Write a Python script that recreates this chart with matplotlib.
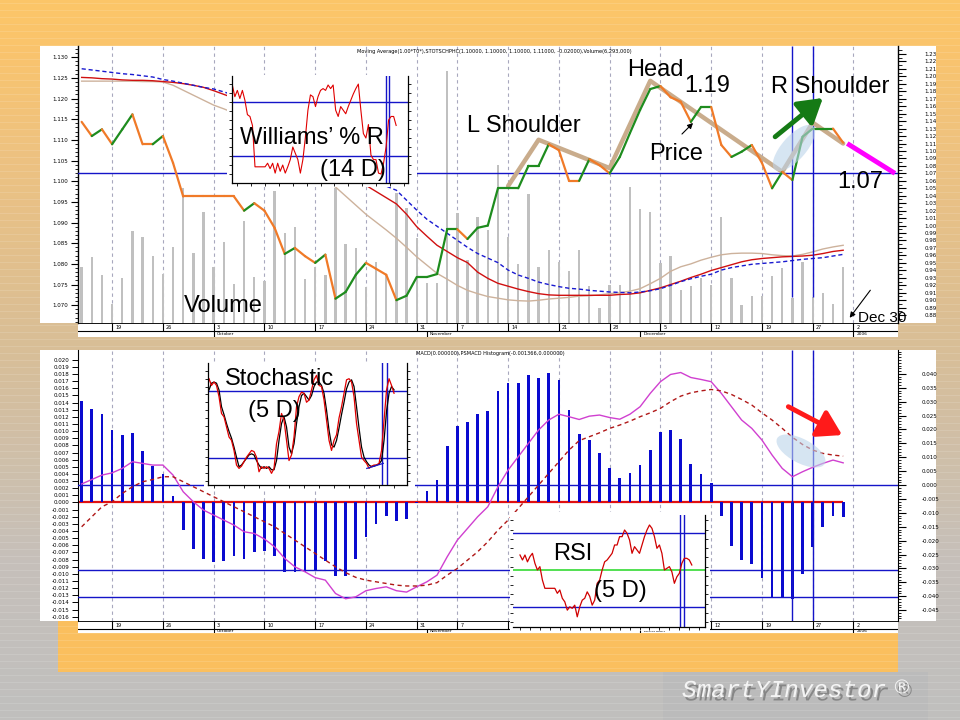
import matplotlib
matplotlib.use("Agg")
import matplotlib.pyplot as plt
import matplotlib.patches as patches
import matplotlib.patheffects as pe
import matplotlib.transforms as mtransforms
import numpy as np

# ---------------------------------------------------------------
# Daily series, trading-day index 0 = Sep 14 2005 ... 75 = Dec 30 2005
# ---------------------------------------------------------------
price = [1.139, 1.120, 1.129, 1.109, 1.129, 1.149, 1.109, 1.109, 1.120, 1.084,
         1.039, 1.039, 1.039, 1.039, 1.039, 1.039, 1.020, 1.030, 1.020, 0.997,
         0.962, 0.970, 0.959, 0.950, 0.961, 0.902, 0.911, 0.934, 0.950, 0.942,
         0.934, 0.900, 0.906, 0.931, 0.931, 0.935, 0.995, 0.995, 0.982, 0.997,
         1.000, 1.050, 1.050, 1.050, 1.080, 1.080, 1.109, 1.101, 1.060, 1.060,
         1.089, 1.081, 1.070, 1.092, 1.124, 1.155, 1.183, 1.187, 1.172, 1.166,
         1.139, 1.159, 1.159, 1.108, 1.092, 1.099, 1.108, 1.084, 1.050, 1.072,
         1.061, 1.119, 1.130, 1.130, 1.130, 1.111]

volume = [2.04, 2.40, 1.74, 0.69, 1.64, 3.34, 3.13, 2.43, 1.78, 2.74,
          4.88, 2.53, 4.03, 2.04, 2.95, 1.41, 3.71, 1.68, 1.52, 4.79,
          3.25, 3.49, 1.61, 2.04, 1.75, 4.88, 2.86, 2.71, 1.32, 2.22,
          1.74, 4.72, 4.16, 3.09, 1.45, 1.44, 9.14, 3.97, 2.28, 3.85,
          3.37, 5.72, 3.11, 2.14, 4.67, 2.04, 2.64, 2.22, 1.89, 2.64,
          1.34, 0.53, 1.38, 1.38, 4.92, 4.12, 4.02, 2.18, 2.43, 1.20,
          1.34, 1.64, 1.38, 3.83, 1.64, 0.64, 0.98, 0.98, 1.70, 1.98,
          0.92, 2.22, 0.95, 1.10, 0.69, 2.04]

ma_red = [1.1251, 1.1250, 1.1248, 1.1247, 1.1245, 1.1244, 1.1244, 1.1243, 1.1241, 1.1239,
          1.1236, 1.1232, 1.1227, 1.1219, 1.1210, 1.1201, 1.1189, 1.1174, 1.1160, 1.1145,
          1.1128, 1.1111, 1.1094, 1.1077, 1.1061, 1.1044, 1.1027, 1.1010, 1.0990, 1.0975,
          1.0960, 1.0945, 1.0920, 1.0890, 1.0867, 1.0845, 1.0830, 1.0815, 1.0803, 1.0780,
          1.0765, 1.0753, 1.0746, 1.0739, 1.0733, 1.0728, 1.0725, 1.0724, 1.0724, 1.0724,
          1.0724, 1.0724, 1.0724, 1.0726, 1.0727, 1.0730, 1.0736, 1.0742, 1.0750, 1.0758,
          1.0767, 1.0775, 1.0784, 1.0791, 1.0798, 1.0805, 1.0810, 1.0813, 1.0815, 1.0817,
          1.0818, 1.0819, 1.0821, 1.0825, 1.0830, 1.0833]

ma_blue = [1.1272, 1.1269, 1.1266, 1.1263, 1.1260, 1.1258, 1.1255, 1.1252, 1.1246, 1.1242,
           1.1237, 1.1232, 1.1227, 1.1223, 1.1216, 1.1208, 1.1196, 1.1181, 1.1167, 1.1152,
           1.1136, 1.1121, 1.1104, 1.1087, 1.1070, 1.1056, 1.1039, 1.1024, 1.1010, 1.0998,
           1.0988, 1.0978, 1.0954, 1.0930, 1.0908, 1.0891, 1.0874, 1.0857, 1.0840, 1.0825,
           1.0814, 1.0803, 1.0785, 1.0773, 1.0765, 1.0756, 1.0750, 1.0745, 1.0741, 1.0739,
           1.0736, 1.0734, 1.0732, 1.0731, 1.0730, 1.0732, 1.0735, 1.0740, 1.0748, 1.0757,
           1.0764, 1.0770, 1.0775, 1.0785, 1.0791, 1.0795, 1.0799, 1.0801, 1.0803, 1.0805,
           1.0808, 1.0811, 1.0813, 1.0815, 1.0819, 1.0823]

ma_tan = [1.1242, 1.1242, 1.1242, 1.1242, 1.1242, 1.1242, 1.1241, 1.1241, 1.1240, 1.1232,
          1.1220, 1.1208, 1.1196, 1.1184, 1.1175, 1.1165, 1.1150, 1.1133, 1.1116, 1.1097,
          1.1077, 1.1058, 1.1039, 1.1019, 1.1000, 1.0986, 1.0964, 1.0942, 1.0920, 1.0901,
          1.0882, 1.0862, 1.0840, 1.0817, 1.0797, 1.0777, 1.0763, 1.0748, 1.0736, 1.0728,
          1.0721, 1.0717, 1.0713, 1.0711, 1.0710, 1.0712, 1.0715, 1.0717, 1.0719, 1.0722,
          1.0723, 1.0725, 1.0728, 1.0730, 1.0734, 1.0740, 1.0752, 1.0765, 1.0782, 1.0793,
          1.0800, 1.0809, 1.0816, 1.0822, 1.0825, 1.0826, 1.0826, 1.0825, 1.0822, 1.0820,
          1.0819, 1.0823, 1.0829, 1.0836, 1.0841, 1.0845]

macd_hist = [0.0142, 0.0131, 0.0124, 0.0102, 0.0095, 0.0098, 0.0072, 0.0051, 0.0040, 0.0009,
             -0.0039, -0.0065, -0.0079, -0.0083, -0.0082, -0.0075, -0.0079, -0.0070, -0.0068, -0.0075,
             -0.0097, -0.0097, -0.0097, -0.0095, -0.0082, -0.0103, -0.0103, -0.0079, -0.0048, -0.0030,
             -0.0019, -0.0026, -0.0023, -0.0001, 0.0016, 0.0031, 0.0079, 0.0107, 0.0113, 0.0124,
             0.0128, 0.0156, 0.0168, 0.0168, 0.0178, 0.0174, 0.0181, 0.0171, 0.0130, 0.0096,
             0.0088, 0.0070, 0.0048, 0.0035, 0.0042, 0.0053, 0.0074, 0.0099, 0.0101, 0.0089,
             0.0054, 0.0040, 0.0027, -0.0019, -0.0061, -0.0081, -0.0086, -0.0106, -0.0133, -0.0133,
             -0.0135, -0.0100, -0.0062, -0.0035, -0.0019, -0.0021]

macd_line = [0.0004, 0.0020, 0.0036, 0.0044, 0.0060, 0.0084, 0.0078, 0.0072, 0.0072, 0.0036,
             -0.0024, -0.0060, -0.0090, -0.0108, -0.0126, -0.0144, -0.0168, -0.0174, -0.0194, -0.0222,
             -0.0264, -0.0294, -0.0312, -0.0333, -0.0342, -0.0390, -0.0409, -0.0402, -0.0380, -0.0372,
             -0.0366, -0.0380, -0.0385, -0.0366, -0.0348, -0.0324, -0.0258, -0.0198, -0.0156, -0.0114,
             -0.0078, -0.0006, 0.0054, 0.0102, 0.0150, 0.0198, 0.0234, 0.0255, 0.0246, 0.0236,
             0.0248, 0.0252, 0.0243, 0.0237, 0.0255, 0.0282, 0.0330, 0.0372, 0.0398, 0.0405,
             0.0387, 0.0380, 0.0372, 0.0330, 0.0282, 0.0234, 0.0204, 0.0162, 0.0108, 0.0060,
             0.0030, 0.0048, 0.0064, 0.0078, 0.0090, 0.0080]

macd_signal = [-0.0150, -0.0114, -0.0078, -0.0060, -0.0030, -0.0006, 0.0012, 0.0020, 0.0030, 0.0030,
               0.0012, -0.0006, -0.0024, -0.0042, -0.0060, -0.0078, -0.0096, -0.0114, -0.0132, -0.0150,
               -0.0174, -0.0198, -0.0222, -0.0246, -0.0270, -0.0294, -0.0315, -0.0332, -0.0342, -0.0348,
               -0.0354, -0.0360, -0.0363, -0.0363, -0.0360, -0.0351, -0.0324, -0.0300, -0.0270, -0.0240,
               -0.0204, -0.0162, -0.0126, -0.0084, -0.0042, 0.0000, 0.0042, 0.0084, 0.0126, 0.0160,
               0.0174, 0.0188, 0.0204, 0.0216, 0.0230, 0.0246, 0.0260, 0.0276, 0.0300, 0.0320,
               0.0332, 0.0339, 0.0344, 0.0339, 0.0326, 0.0308, 0.0288, 0.0260, 0.0234, 0.0204,
               0.0172, 0.0146, 0.0126, 0.0114, 0.0108, 0.0104]

# small indicator windows (own sampling)
williams_r = [-1, -14, -7, -16, -7, -18, -34, -36, -46, -92,
              -92, -92, -92, -92, -88, -94, -88, -99, -88, -97,
              -90, -99, -92, -84, -70, -77, -84, -99, -84, -59,
              -29, -12, -14, -25, -14, -7, -5, -7, -1, -5,
              -1, -29, -36, -25, -29, -33, -25, -18, -11, -5,
              0, -29, -55, -60, -45, -79, -84, -84, -99, -100,
              -88, -70, -40, -36, -36, -46]

stoch_k = [91, 85, 88, 85, 75, 60, 57, 48, 39, 36,
           27, 14, 11, 13, 17, 21, 24, 27, 26, 21,
           8, 12.5, 11, 12.5, 11, 6.6, 11, 33, 44, 60,
           54, 36, 18, 23, 39, 66, 75, 79, 78, 70,
           72, 81, 90, 94, 85, 84, 72, 54, 36, 27,
           36, 41, 56, 66, 78, 90, 91, 88, 75, 51,
           36, 21, 18, 15.5, 11, 13, 14, 14, 15.5, 27,
           54, 81, 91, 85, 78]

stoch_d = [81, 87, 88, 87, 81, 66, 59, 51, 44, 38,
           30, 21, 12.5, 14, 17, 20, 23, 24, 23, 18,
           14, 11, 12.5, 11, 12.5, 9.8, 9.8, 18, 36, 51,
           57, 48, 30, 24, 33, 51, 66, 76, 78, 75,
           72, 76, 84, 88, 88, 85, 78, 63, 45, 32,
           30, 36, 47, 59, 70, 82, 88, 90, 84, 66,
           47, 30, 21, 17, 14, 12.5, 13, 14, 15, 18,
           36, 62, 78, 84, 81]

rsi = [58.3, 55.6, 58.3, 54.6, 57.4, 59.2, 53.8, 50.2, 52.0, 44.8,
       40.3, 40.3, 40.3, 40.3, 40.3, 37.6, 39.4, 34.9, 33.0, 28.5,
       30.3, 29.5, 31.2, 24.9, 30.3, 33.9, 34.9, 38.4, 36.0, 31.2,
       33.9, 43.0, 44.8, 50.2, 54.6, 55.6, 57.4, 59.2, 63.7, 63.7,
       68.2, 68.2, 71.8, 70.0, 66.4, 59.2, 62.8, 61.0, 59.2, 63.7,
       68.2, 71.8, 74.5, 72.7, 68.2, 61.9, 63.7, 59.2, 50.2, 51.1,
       52.0, 49.2, 43.0, 46.5, 48.4, 53.8, 56.5, 56.5, 55.6, 52.9]

# head & shoulders outline and projected target
hs_x = [42, 45, 52, 56, 69, 72, 75]
hs_y = [1.053, 1.115, 1.077, 1.194, 1.072, 1.138, 1.110]
target_x = [75.4, 80.1]
target_y = [1.110, 1.070]
neckline = 1.07
marker_days = [70, 72]
macd_levels = [0.0, -0.0307, -0.0404]

week_idx = [3, 8, 13, 18, 23, 28, 33, 37, 42, 47, 52, 57, 62, 67, 72, 76]
week_labels = ["19", "26", "3", "10", "17", "24", "31", "7", "14", "21", "28",
               "5", "12", "19", "27", "2"]
month_idx = [13, 34, 55, 76]
month_labels = ["October", "November", "December", "2006"]

W, H = 960, 720
XLIM = (-0.36, 80.4)
days = np.arange(len(price))

BLUE = "#1414C8"
GRID = "#A8A8BE"

fig = plt.figure(figsize=(9.6, 7.2), dpi=100)
# pixel coordinates, origin top-left
pix = mtransforms.Affine2D().scale(1 / 100, -1 / 100).translate(0, 7.2) + fig.dpi_scale_trans


def box(x0, y0, x1, y1):
    return [x0 / W, 1 - y1 / H, (x1 - x0) / W, (y1 - y0) / H]


def bare(ax):
    ax.set_xticks([])
    ax.set_yticks([])
    for s in ax.spines.values():
        s.set_visible(False)


def fmt(digits):
    # avoid "-0.000" at the zero line
    return matplotlib.ticker.FuncFormatter(lambda v, _: f"{v + 0.0:.{digits}f}".replace("-0.000", "0.000"))


# ---------------- slide background ----------------
bg = fig.add_axes([0, 0, 1, 1], zorder=-10)
ys = np.arange(H)
stops_y = [0, 46, 150, 340, 560, 720]
stops_c = np.array([[252, 198, 104], [250, 196, 108], [238, 194, 128],
                    [217, 190, 150], [198, 192, 186], [192, 191, 190]]) / 255
grad = np.stack([np.interp(ys, stops_y, stops_c[:, k]) for k in range(3)], axis=1)
bg.imshow(grad[:, None, :], extent=(0, W, H, 0), aspect="auto", interpolation="bilinear")
for y in range(3, H, 7):
    bg.axhline(y, color="white", alpha=0.13, lw=0.7)
bg.add_patch(patches.Rectangle((663, 672), 265, 48, fc="#BBBBBB", ec="none"))
bg.add_patch(patches.Rectangle((58, 621), 840, 51, fc="#FABF5E", ec="none"))
bg.add_patch(patches.Rectangle((40, 46), 896, 277, fc="white", ec="none"))
bg.add_patch(patches.Rectangle((78, 323), 820, 14, fc="white", ec="none"))
bg.add_patch(patches.Rectangle((40, 350), 896, 271, fc="white", ec="none"))
bg.add_patch(patches.Rectangle((78, 621), 820, 12, fc="white", ec="none"))
bg.set_xlim(0, W)
bg.set_ylim(H, 0)
bg.axis("off")

# ---------------- price panel ----------------
ax_v = fig.add_axes(box(78, 46, 898, 323))
ax_v.set_facecolor("none")
ax_v.bar(days, volume, width=0.23, color="#C0C0C0", zorder=2)
ax_v.vlines(week_idx, 0, 1, transform=ax_v.get_xaxis_transform(), colors=GRID,
            linestyles=(0, (3, 3)), lw=0.8, zorder=1)
ax_v.set_xlim(*XLIM)
ax_v.set_ylim(0, 10.04)
bare(ax_v)

ax_ma = ax_v.twinx()
ax_ma.plot(days, ma_tan, color="#CDB29C", lw=1.0)
ax_ma.plot(days, ma_red, color="#D01010", lw=1.0)
ax_ma.plot(days, ma_blue, color="#1A1AD0", lw=1.0, ls=(0, (3, 2)))
ax_ma.set_ylim(1.0657, 1.1327)
ax_ma.yaxis.tick_left()
ax_ma.set_yticks(np.arange(1.070, 1.1301, 0.005))
ax_ma.set_yticks(np.arange(1.066, 1.1321, 0.001), minor=True)
ax_ma.yaxis.set_major_formatter(fmt(3))
ax_ma.tick_params(axis="y", which="major", length=5, width=0.8, labelsize=4, pad=2)
ax_ma.tick_params(axis="y", which="minor", length=2, width=0.6)
for k, s in ax_ma.spines.items():
    s.set_visible(k == "left")
ax_ma.spines["left"].set_linewidth(1.0)

ax_p = ax_v.twinx()
ax_p.axhline(neckline, color=BLUE, lw=1.0)
ax_p.vlines(marker_days, 0.094, 1, transform=ax_p.get_xaxis_transform(), colors=BLUE, lw=1.0)
ax_p.plot(hs_x, hs_y, color="#C9AC8C", lw=3.2, solid_capstyle="round", zorder=3)
seg_color = "#1E8C1E"
for i in range(1, len(price)):
    if price[i] > price[i - 1]:
        seg_color = "#1E8C1E"
    elif price[i] < price[i - 1]:
        seg_color = "#F07A28"
    ax_p.plot(days[i - 1:i + 1], price[i - 1:i + 1], color=seg_color, lw=1.6,
              solid_capstyle="round", zorder=4)
ax_p.plot(target_x, target_y, color="#FF00FF", lw=3.5, solid_capstyle="butt", zorder=5)
ax_p.annotate("", xy=(73.0, 1.171), xytext=(68.3, 1.119),
              arrowprops=dict(arrowstyle="-|>,head_length=0.9,head_width=0.55",
                              lw=3.5, color="#157A15", mutation_scale=16, shrinkA=0, shrinkB=0),
              zorder=6)
ax_p.set_ylim(0.8694, 1.2407)
ax_p.set_yticks(np.arange(0.88, 1.2301, 0.01))
ax_p.set_yticks(np.arange(0.875, 1.2351, 0.005), minor=True)
ax_p.yaxis.set_major_formatter(fmt(2))
ax_p.tick_params(axis="y", which="major", length=6, width=0.8, labelsize=4, pad=13)
ax_p.tick_params(axis="y", which="minor", length=3, width=0.6)
for k, s in ax_p.spines.items():
    s.set_visible(k == "right")
ax_p.spines["right"].set_linewidth(1.0)
ax_p.set_xlim(*XLIM)

# ---------------- MACD panel ----------------
ax_h = fig.add_axes(box(78, 350, 898, 621))
ax_h.set_facecolor("none")
ax_h.vlines(week_idx, 0, 1, transform=ax_h.get_xaxis_transform(), colors=GRID,
            linestyles=(0, (3, 3)), lw=0.8, zorder=1)
ax_h.bar(days, macd_hist, width=0.27, color="#0A0ACF", zorder=3)
ax_h.hlines(0, days[0] - 0.4, days[-1], color="#E01010", lw=1.6, zorder=2)
ax_h.set_xlim(*XLIM)
ax_h.set_ylim(-0.0166, 0.02136)
ax_h.set_xticks([])
ax_h.set_yticks(np.arange(-0.016, 0.02001, 0.001))
ax_h.yaxis.set_major_formatter(fmt(3))
ax_h.tick_params(axis="y", length=4, width=0.7, labelsize=4, pad=2)
for k, s in ax_h.spines.items():
    s.set_visible(k == "left")

ax_m = ax_h.twinx()
for lvl in macd_levels:
    ax_m.axhline(lvl, color=BLUE, lw=1.0, zorder=1)
ax_m.vlines(marker_days, 0, 1, transform=ax_m.get_xaxis_transform(), colors=BLUE, lw=1.0)
ax_m.plot(days, macd_line, color="#D040D0", lw=1.0)
ax_m.plot(days, macd_signal, color="#B01818", lw=1.0, ls=(0, (3, 2.5)))
ax_m.annotate("", xy=(74.9, 0.018), xytext=(69.6, 0.0282),
              arrowprops=dict(arrowstyle="-|>,head_length=0.9,head_width=0.55",
                              lw=3.5, color="#FF1A1A", mutation_scale=16, shrinkA=0, shrinkB=0))
ax_m.set_ylim(-0.0489, 0.0486)
ax_m.set_yticks(np.arange(-0.045, 0.0401, 0.005))
ax_m.set_yticks(np.arange(-0.048, 0.0481, 0.001), minor=True)
ax_m.yaxis.set_major_formatter(fmt(3))
ax_m.tick_params(axis="y", which="major", length=6, width=0.8, labelsize=4, pad=11)
ax_m.tick_params(axis="y", which="minor", length=2.5, width=0.6)
for k, s in ax_m.spines.items():
    s.set_visible(k == "right")
ax_m.set_xlim(*XLIM)


# ---------------- date strips ----------------
def date_strip(y0, ymid, y1):
    s = fig.add_axes(box(78, y0, 898, y1))
    s.set_facecolor("none")
    s.set_xlim(*XLIM)
    s.set_ylim(y1, y0)
    s.axhline(y0, color="black", lw=1.3)
    s.axhline(ymid, color="black", lw=0.8)
    s.vlines(week_idx, y0, ymid, colors="black", lw=0.8)
    for i, lab in zip(week_idx, week_labels):
        s.text(i + 0.3, (y0 + ymid) / 2 + 0.3, lab, fontsize=3.5, ha="left", va="center")
    s.vlines(month_idx, ymid, y1, colors="black", lw=0.8)
    for i, lab in zip(month_idx, month_labels):
        s.text(i + 0.3, (ymid + y1) / 2 + 0.3, lab, fontsize=3.2, ha="left", va="center")
    bare(s)


date_strip(323, 330.5, 337)
date_strip(621, 629, 633)


# ---------------- indicator windows ----------------
def window(plot_box, back_box):
    b = fig.add_axes(box(*back_box), zorder=4)
    b.set_facecolor("white")
    bare(b)
    a = fig.add_axes(box(*plot_box), zorder=5)
    a.set_facecolor("none")
    a.spines["top"].set_visible(False)
    for k in ("left", "right", "bottom"):
        a.spines[k].set_linewidth(0.9)
    a.tick_params(axis="both", direction="out", length=2, width=0.6,
                  labelleft=False, labelbottom=False, left=True, right=True)
    return a


# Williams %R
aw = window((231.7, 76, 408, 183), (227, 75, 417, 187))
aw.axhline(-20, color=BLUE, lw=1.0)
aw.axhline(-80, color=BLUE, lw=1.0)
aw.axvline(61.0, color=BLUE, lw=1.0)
aw.axvline(62.2, color=BLUE, lw=1.0)
aw.plot(np.arange(len(williams_r)), williams_r, color="#E00000", lw=0.8)
aw.set_xlim(-0.24, 69.7)
aw.set_ylim(-110, 9)
aw.set_yticks(np.arange(-100, 1, 10))
aw.set_xticks(np.arange(2, 70, 5.5))

# Stochastic
ast = window((208.3, 363, 407.3, 485), (204, 362, 415, 490))
ast.axhline(80, color=BLUE, lw=1.0)
ast.axhline(20, color=BLUE, lw=1.0)
ast.axvline(69.1, color=BLUE, lw=1.0)
ast.axvline(71.1, color=BLUE, lw=1.0)
ast.plot(np.arange(len(stoch_d)), stoch_d, color="black", lw=0.9)
ast.plot(np.arange(len(stoch_k)), stoch_k, color="#E00000", lw=0.9)
ast.plot([63.1, 69.7], [11, 15.5], color=BLUE, lw=0.9)
ast.set_xlim(-0.28, 79.3)
ast.set_ylim(-3.8, 105)
ast.set_yticks(np.arange(0, 101, 7))
ast.set_xticks(np.arange(2, 79, 6))

# RSI
ar = window((513, 515, 705, 627), (510, 512, 710, 631))
ar.spines["left"].set_visible(False)
ar.axhline(70, color=BLUE, lw=1.0)
ar.axhline(30, color=BLUE, lw=1.0)
ar.axhline(50, color="#44DD44", lw=1.3)
ar.axvline(64.4, color=BLUE, lw=1.0)
ar.axvline(66.0, color=BLUE, lw=1.0)
ar.plot(np.arange(len(rsi)), rsi, color="#D00000", lw=0.9)
ar.set_xlim(-2.8, 74.3)
ar.set_ylim(19.4, 79.9)
ar.set_yticks(np.arange(22, 80, 5))
ar.set_xticks(np.arange(0, 74, 4))

# ---------------- highlights & annotation arrows ----------------
fig.add_artist(patches.Ellipse((794, 148), 58, 24, angle=-48.5, transform=pix,
                               fc="#BCD4EA", ec="none", alpha=0.6, zorder=1))
fig.add_artist(patches.Ellipse((801, 451), 54, 24, angle=28, transform=pix,
                               fc="#BCD4EA", ec="none", alpha=0.6, zorder=1))
fig.add_artist(patches.FancyArrowPatch((680, 136), (695, 121), transform=pix,
                                       arrowstyle="-|>", mutation_scale=8, lw=0.8,
                                       color="black", zorder=8))
fig.add_artist(patches.FancyArrowPatch((872, 288), (848, 320), transform=pix,
                                       arrowstyle="-|>", mutation_scale=8, lw=0.8,
                                       color="black", zorder=8))

# ---------------- text ----------------
big = dict(transform=pix, family="Liberation Sans", fontsize=17, color="black",
           ha="left", va="baseline", zorder=10)
fig.text(240, 144.5, "Williams’ % R", **big)
fig.text(320, 176, "(14 D)", **big)
fig.text(184, 312, "Volume", **big)
fig.text(467, 132, "L Shoulder", **big)
fig.text(627, 76, "Head", **big)
fig.text(684, 92, "1.19", **big)
fig.text(771, 93, "R Shoulder", **big)
fig.text(649, 160, "Price", **big)
fig.text(837, 188, "1.07", **big)
fig.text(225, 385, "Stochastic", **big)
fig.text(248, 417, "(5 D)", **big)
fig.text(553, 560, "RSI", **big)
fig.text(594, 597, "(5 D)", **big)
fig.text(858, 322, "Dec 30", transform=pix, family="Liberation Sans", fontsize=11,
         ha="left", va="baseline", zorder=10)

fig.text(357, 51, "Moving Average(1.00*T0*),STOTSCHPHC(1.10000, 1.10000, 1.10000, 1.11000, "
         "-0.02000),Volume(6,293,000)", transform=pix, fontsize=3.6, ha="left", va="center")
fig.text(416, 354, "MACD(0.000000),PSMACD Histogram(-0.001366,0.000000)",
         transform=pix, fontsize=3.6, ha="left", va="center")

shadow = [pe.withSimplePatchShadow(offset=(2, -2.5), shadow_rgbFace="#707070", alpha=0.7)]
fig.text(682, 697, "SmartYInvestor", transform=pix, family="Liberation Mono", style="italic",
         fontsize=17.5, color="#F4F4F4", ha="left", va="baseline", path_effects=shadow, zorder=10)
fig.text(902, 688, "®", transform=pix, family="DejaVu Sans", fontsize=14, color="#F4F4F4",
         ha="center", va="center", path_effects=shadow, zorder=10)

fig.savefig("out.png", dpi=100)
